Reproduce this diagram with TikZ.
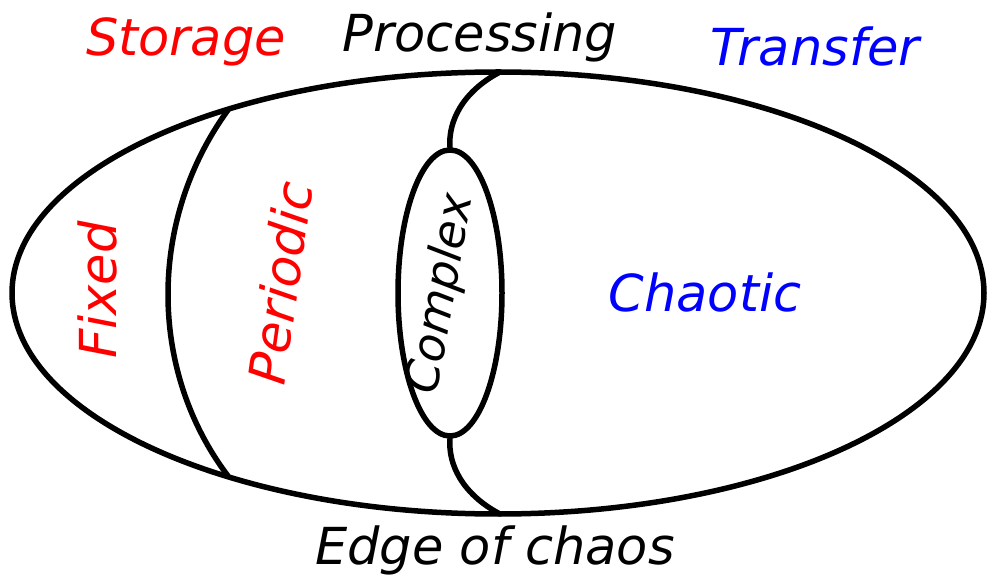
\documentclass[tikz,border=0pt]{standalone}
\usepackage{fontspec}
\setmainfont{DejaVu Sans}
\usetikzlibrary{shapes.geometric}
\begin{document}
\begin{tikzpicture}[x=1pt,y=-1pt,
  ln/.style={line width=5.5pt,line cap=round,line join=round},
  lbl/.style={font=\fontsize{51}{58}\selectfont\itshape,inner sep=0pt}]
\useasboundingbox (0,0) rectangle (989,585);
\definecolor{myred}{RGB}{255,0,0}
\definecolor{myblue}{RGB}{0,0,255}
\draw[ln] (498,293) ellipse [x radius=486,y radius=221];
\node[ln,draw,ellipse,minimum width=104pt,minimum height=286pt,inner sep=0pt] (cx) at (450,293) {};
\coordinate (lt) at (228,110);
\coordinate (lb) at (228,476);
\coordinate (tt) at (500,72);
\coordinate (bb) at (500,514);
\draw[ln] (lt) .. controls (148,220) and (148,370) .. (lb);
\draw[ln] (tt) .. controls (462,92) and (448,122) .. (cx.north);
\draw[ln] (cx.south) .. controls (448,464) and (462,494) .. (bb);
\node[lbl,text=myred] (st) at (186,42) {Storage};
\node[lbl] (pr) at (480,37) {Processing};
\node[lbl,text=myblue] (tr) at (815,46) {Transfer};
\node[lbl] (ed) at (495,550) {Edge of chaos};
\node[lbl,text=myred,rotate=90] (fx) at (97,290) {Fixed};
\node[lbl,text=myred,rotate=82] (pe) at (280,283) {Periodic};
\node[lbl,rotate=80,font=\fontsize{46}{52}\selectfont\itshape] (co) at (442,294) {Complex};
\node[lbl,text=myblue] (ch) at (705,292) {Chaotic};
\end{tikzpicture}
\end{document}
